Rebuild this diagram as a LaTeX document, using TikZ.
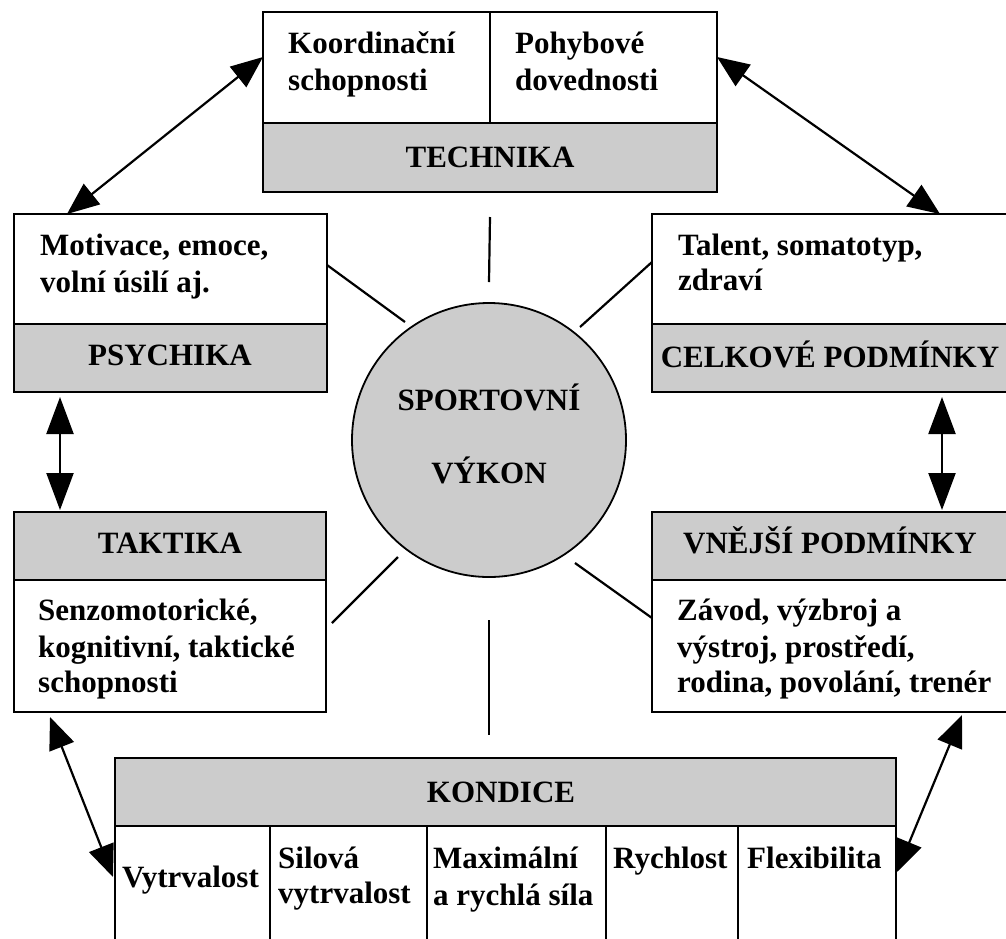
\documentclass[tikz,border=0pt]{standalone}
\usepackage{fontspec}
\setmainfont{Liberation Serif}
\usetikzlibrary{arrows.meta,calc}
\begin{document}
\begin{tikzpicture}[x=1pt,y=-1pt,
  bx/.style={draw, line width=1.6pt, inner sep=0pt, outer sep=0pt, anchor=north west},
  wb/.style={bx, fill=white},
  gb/.style={bx, fill=gray!40},
  lbl/.style={anchor=base west, inner sep=0pt, font=\bfseries\fontsize{31}{37}\selectfont},
  clbl/.style={lbl, anchor=base},
  spoke/.style={line width=2.2pt},
  darr/.style={line width=2.2pt, {Triangle[length=32pt,width=26pt]}-{Triangle[length=32pt,width=26pt]}},
  varr/.style={line width=2.2pt, {Triangle[length=37pt,width=27pt]}-{Triangle[length=37pt,width=27pt]}}
]
\clip (0,0) rectangle (1006,938);
% TECHNIKA
\node[wb, minimum width=227pt, minimum height=111pt] (koord) at (263,12) {};
\node[wb, minimum width=227pt, minimum height=111pt] (pohyb) at (490,12) {};
\node[gb, minimum width=454pt, minimum height=69pt] (technika) at (263,123) {};
% PSYCHIKA
\node[wb, minimum width=313pt, minimum height=110pt] (motiv) at (14,214) {};
\node[gb, minimum width=313pt, minimum height=68pt] (psychika) at (14,324) {};
% CELKOVE
\node[wb, minimum width=362pt, minimum height=110pt] (talent) at (652,214) {};
\node[gb, minimum width=362pt, minimum height=68pt] (celkove) at (652,324) {};
% TAKTIKA
\node[gb, minimum width=312pt, minimum height=68pt] (taktika) at (14,512) {};
\node[wb, minimum width=312pt, minimum height=132pt] (senzo) at (14,580) {};
% VNEJSI
\node[gb, minimum width=362pt, minimum height=68pt] (vnejsi) at (652,512) {};
\node[wb, minimum width=362pt, minimum height=132pt] (zavod) at (652,580) {};
% KONDICE
\node[gb, minimum width=781pt, minimum height=68pt] (kondice) at (115,758) {};
\node[wb, minimum width=155pt, minimum height=130pt] (k1) at (115,826) {};
\node[wb, minimum width=157pt, minimum height=130pt] (k2) at (270,826) {};
\node[wb, minimum width=179pt, minimum height=130pt] (k3) at (427,826) {};
\node[wb, minimum width=132pt, minimum height=130pt] (k4) at (606,826) {};
\node[wb, minimum width=158pt, minimum height=130pt] (k5) at (738,826) {};
% centre
\node[circle, draw, line width=1.8pt, fill=gray!40, minimum size=274pt, inner sep=0pt] (vykon) at (489,440) {};

% texts
\node[lbl] (t1) at (288,53) {Koordinační};
\node[lbl] (t2) at (288,90) {schopnosti};
\node[lbl] (t3) at (515,53) {Pohybové};
\node[lbl] (t4) at (515,90) {dovednosti};
\node[clbl] (t5) at (490,167) {TECHNIKA};
\node[lbl] (t6) at (40,255) {Motivace, emoce,};
\node[lbl] (t7) at (40,292) {volní úsilí aj.};
\node[clbl] (t8) at (170,365) {PSYCHIKA};
\node[lbl] (t9) at (678,255) {Talent, somatotyp,};
\node[lbl] (t10) at (678,290) {zdraví};
\node[clbl] (t11) at (830,367) {CELKOVÉ PODMÍNKY};
\node[clbl] (t12) at (170,553) {TAKTIKA};
\node[lbl] (t13) at (38,620) {Senzomotorické,};
\node[lbl] (t14) at (38,657) {kognitivní, taktické};
\node[lbl] (t15) at (38,692) {schopnosti};
\node[clbl] (t16) at (830,553) {VNĚJŠÍ PODMÍNKY};
\node[lbl] (t17) at (677,620) {Závod, výzbroj a};
\node[lbl] (t18) at (677,657) {výstroj, prostředí,};
\node[lbl] (t19) at (677,692) {rodina, povolání, trenér};
\node[clbl] (t20) at (489,410) {SPORTOVNÍ};
\node[clbl] (t21) at (489,483) {VÝKON};
\node[clbl] (t22) at (501,802) {KONDICE};
\node[lbl] (t23) at (122,887) {Vytrvalost};
\node[lbl] (t24) at (278,868) {Silová};
\node[lbl] (t25) at (278,903) {vytrvalost};
\node[lbl] (t26) at (433,868) {Maximální};
\node[lbl] (t27) at (433,905) {a rychlá síla};
\node[lbl] (t28) at (613,868) {Rychlost};
\node[lbl] (t29) at (747,868) {Flexibilita};

% spokes
\draw[spoke] ($(technika.south)+(0,25)$) -- ($(vykon.center)+(0,-158)$);
\draw[spoke] ($(motiv.east)+(0,-4)$) -- ($(vykon.center)+(-84,-118)$);
\draw[spoke] ($(talent.west)+(0,-7)$) -- ($(vykon.center)+(91,-113)$);
\draw[spoke] ($(senzo.north east)+(6,43)$) -- ($(vykon.center)+(-91,117)$);
\draw[spoke] ($(vykon.center)+(86,123)$) -- ($(zavod.north west)+(0,38)$);
\draw[spoke] ($(vykon.center)+(0,180)$) -- ($(vykon.center)+(0,295)$);

% arrows
\draw[darr] ($(koord.north west)+(0,45)$) -- ($(motiv.north west)+(53,0)$);
\draw[darr] ($(pohyb.north east)+(0,45)$) -- ($(talent.north west)+(288,0)$);
\draw[varr, shorten <=5pt, shorten >=2pt] ($(psychika.south west)+(46,0)$) -- ($(taktika.north west)+(46,0)$);
\draw[varr, shorten <=5pt, shorten >=2pt] ($(celkove.south west)+(290,0)$) -- ($(vnejsi.north west)+(290,0)$);
\draw[darr] ($(senzo.south west)+(36,5)$) -- ($(k1.north west)+(-2,51)$);
\draw[darr] ($(zavod.south west)+(310,3)$) -- ($(k5.north east)+(1,46)$);
\end{tikzpicture}
\end{document}
